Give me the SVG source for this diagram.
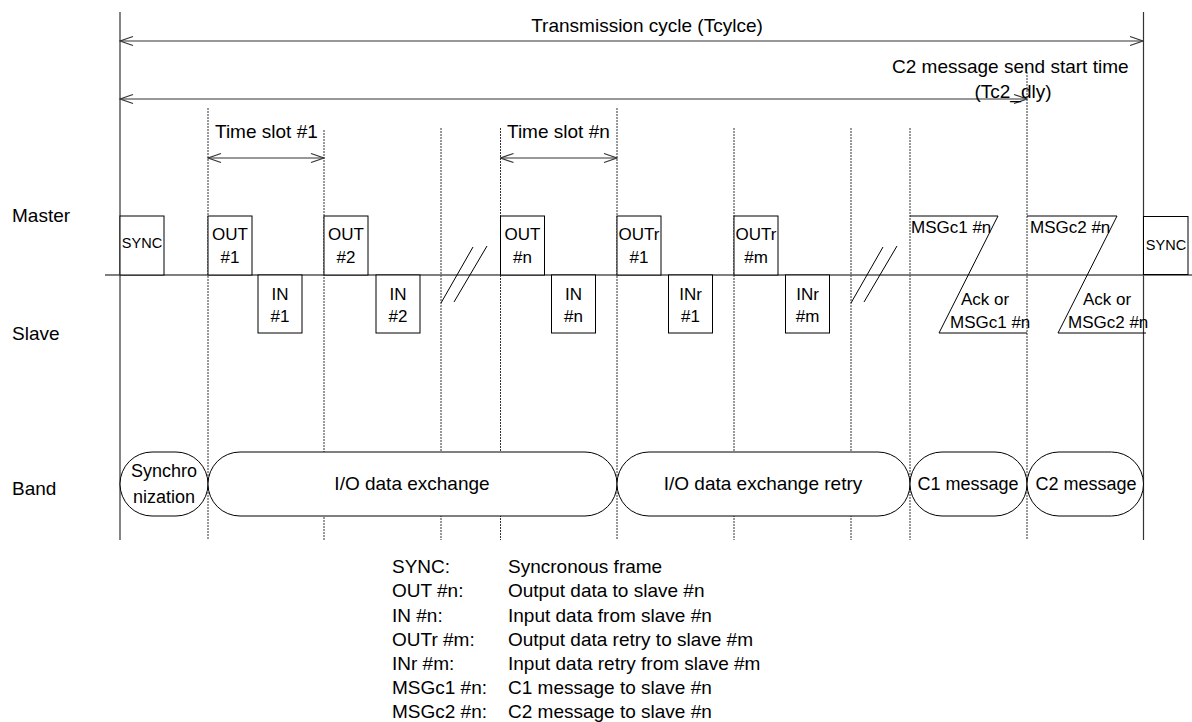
<svg xmlns="http://www.w3.org/2000/svg" width="1192" height="722" viewBox="0 0 1192 722">
<defs>
<style>
text{font-family:"Liberation Sans",Arial,"Noto Sans CJK JP",sans-serif;fill:#000}
.lbl{font-size:19px}
.bx{font-size:17px;text-anchor:middle}
.sm{font-size:14.5px;text-anchor:middle}
.box{fill:#fff;stroke:#000;stroke-width:1}
.solid{stroke:#333;stroke-width:1.2;fill:none}
.dash{stroke:#333;stroke-width:1;stroke-dasharray:2 1;fill:none}
.arr{stroke:#333;stroke-width:1.2;fill:none;marker-start:url(#ah);marker-end:url(#ah)}
.band{fill:#fff;stroke:#000;stroke-width:1}
.thin{stroke:#000;stroke-width:1;fill:none}
</style>
<marker id="ah" viewBox="-15 -6 16 12" refX="0" refY="0" markerWidth="16" markerHeight="12" markerUnits="userSpaceOnUse" orient="auto-start-reverse">
<path d="M-13,-4.5 L0,0 L-13,4.5" fill="none" stroke="#333" stroke-width="1.2"/>
</marker>
</defs>
<rect width="1192" height="722" fill="#fff"/>

<g id="grid">
<line class="solid" x1="120" y1="12" x2="120" y2="540"/>
<line class="solid" x1="1143.5" y1="12" x2="1143.5" y2="540"/>
<line class="dash" x1="208" y1="108" x2="208" y2="540"/>
<line class="dash" x1="324" y1="130" x2="324" y2="540"/>
<line class="dash" x1="441" y1="128" x2="441" y2="540"/>
<line class="dash" x1="500.5" y1="128" x2="500.5" y2="540"/>
<line class="dash" x1="617" y1="108" x2="617" y2="540"/>
<line class="dash" x1="734" y1="128" x2="734" y2="540"/>
<line class="dash" x1="851" y1="128" x2="851" y2="540"/>
<line class="dash" x1="910" y1="128" x2="910" y2="540"/>
<line class="dash" x1="1027" y1="72" x2="1027" y2="540"/>
<line x1="105" y1="275" x2="1192" y2="275" stroke="#555" stroke-width="1.5"/>
</g>

<g id="row-labels">
<text class="lbl" x="12" y="222">Master</text>
<text class="lbl" x="12" y="340">Slave</text>
<text class="lbl" x="12" y="495">Band</text>
</g>

<g id="connectors">
<line class="arr" x1="120" y1="41" x2="1143" y2="41"/>
<line class="arr" x1="120" y1="99" x2="1027" y2="99"/>
<line class="arr" x1="208" y1="158" x2="324" y2="158"/>
<line class="arr" x1="500.5" y1="158" x2="617" y2="158"/>
</g>

<g id="dimension-labels">
<text class="lbl" x="647" y="32" text-anchor="middle">Transmission cycle (Tcylce)</text>
<text class="lbl" x="892" y="73">C2 message send start time</text>
<text class="lbl" x="1013" y="98" text-anchor="middle">(Tc2_dly)</text>
<text class="lbl" x="215" y="138">Time slot #1</text>
<text class="lbl" x="507" y="138">Time slot #n</text>
</g>

<g id="sync1"><rect class="box" x="120" y="216" width="44" height="59"/><text class="sm" x="142" y="248">SYNC</text></g>
<g id="out1"><rect class="box" x="208" y="216" width="44" height="59"/><text class="bx" x="230" y="240">OUT</text><text class="bx" x="230" y="263">#1</text></g>
<g id="in1"><rect class="box" x="258" y="275" width="44" height="58"/><text class="bx" x="280" y="300">IN</text><text class="bx" x="280" y="322">#1</text></g>
<g id="out2"><rect class="box" x="324" y="216" width="44" height="59"/><text class="bx" x="346" y="240">OUT</text><text class="bx" x="346" y="263">#2</text></g>
<g id="in2"><rect class="box" x="376" y="275" width="44" height="58"/><text class="bx" x="398" y="300">IN</text><text class="bx" x="398" y="322">#2</text></g>
<g id="break1"><line class="thin" x1="441" y1="303" x2="473" y2="247"/><line class="thin" x1="454" y1="302" x2="487" y2="246"/></g>
<g id="outn"><rect class="box" x="500.5" y="216" width="44" height="59"/><text class="bx" x="522.5" y="240">OUT</text><text class="bx" x="522.5" y="263">#n</text></g>
<g id="inn"><rect class="box" x="551.5" y="275" width="44" height="58"/><text class="bx" x="573.5" y="300">IN</text><text class="bx" x="573.5" y="322">#n</text></g>
<g id="outr1"><rect class="box" x="617" y="216" width="44" height="59"/><text class="bx" x="639" y="240">OUTr</text><text class="bx" x="639" y="263">#1</text></g>
<g id="inr1"><rect class="box" x="668.5" y="275" width="44" height="58"/><text class="bx" x="690.5" y="300">INr</text><text class="bx" x="690.5" y="322">#1</text></g>
<g id="outrm"><rect class="box" x="734" y="216" width="44" height="59"/><text class="bx" x="756" y="240">OUTr</text><text class="bx" x="756" y="263">#m</text></g>
<g id="inrm"><rect class="box" x="785.5" y="275" width="44" height="58"/><text class="bx" x="807.5" y="300">INr</text><text class="bx" x="807.5" y="322">#m</text></g>
<g id="break2"><line class="thin" x1="851" y1="303" x2="883" y2="247"/><line class="thin" x1="864" y1="302" x2="897" y2="246"/></g>
<g id="msgc1"><polyline class="thin" points="910,216 998,216 939,333 1027,333"/><text class="bx" x="911" y="233" style="text-anchor:start">MSGc1 #n</text><text class="bx" x="985" y="305">Ack or</text><text class="bx" x="950" y="328" style="text-anchor:start">MSGc1 #n</text></g>
<g id="msgc2"><polyline class="thin" points="1027,216 1117,216 1058,333 1146,333"/><text class="bx" x="1030" y="233" style="text-anchor:start">MSGc2 #n</text><text class="bx" x="1107" y="305">Ack or</text><text class="bx" x="1068" y="328" style="text-anchor:start">MSGc2 #n</text></g>
<g id="sync2"><rect class="box" x="1143.5" y="216.5" width="44.5" height="58"/><text class="sm" x="1166" y="250">SYNC</text></g>

<g id="band-sync"><rect class="band" x="120" y="452" width="88" height="64" rx="32" ry="32"/><text class="lbl" x="164" y="477" text-anchor="middle" style="font-size:18px">Synchro</text><text class="lbl" x="164" y="503" text-anchor="middle" style="font-size:18px">nization</text></g>
<g id="band-io"><rect class="band" x="208" y="452" width="409" height="64" rx="32" ry="32"/><text class="lbl" x="412" y="490" text-anchor="middle">I/O data exchange</text></g>
<g id="band-retry"><rect class="band" x="617" y="452" width="293" height="64" rx="32" ry="32"/><text class="lbl" x="763" y="490" text-anchor="middle">I/O data exchange retry</text></g>
<g id="band-c1"><rect class="band" x="910" y="452" width="117" height="64" rx="32" ry="32"/><text class="lbl" x="968" y="490" text-anchor="middle" style="font-size:18px">C1 message</text></g>
<g id="band-c2"><rect class="band" x="1027" y="452" width="116.5" height="64" rx="32" ry="32"/><text class="lbl" x="1086" y="490" text-anchor="middle" style="font-size:18px">C2 message</text></g>

<g id="legend">
<text class="lbl" x="392" y="573">SYNC:</text><text class="lbl" x="508" y="573">Syncronous frame</text>
<text class="lbl" x="392" y="597">OUT #n:</text><text class="lbl" x="508" y="597">Output data to slave #n</text>
<text class="lbl" x="392" y="621.5">IN #n:</text><text class="lbl" x="508" y="621.5">Input data from slave #n</text>
<text class="lbl" x="392" y="646">OUTr #m:</text><text class="lbl" x="508" y="646">Output data retry to slave #m</text>
<text class="lbl" x="392" y="670">INr #m:</text><text class="lbl" x="508" y="670">Input data retry from slave #m</text>
<text class="lbl" x="392" y="694">MSGc1 #n:</text><text class="lbl" x="508" y="694">C1 message to slave #n</text>
<text class="lbl" x="392" y="718">MSGc2 #n:</text><text class="lbl" x="508" y="718">C2 message to slave #n</text>
</g>
</svg>
